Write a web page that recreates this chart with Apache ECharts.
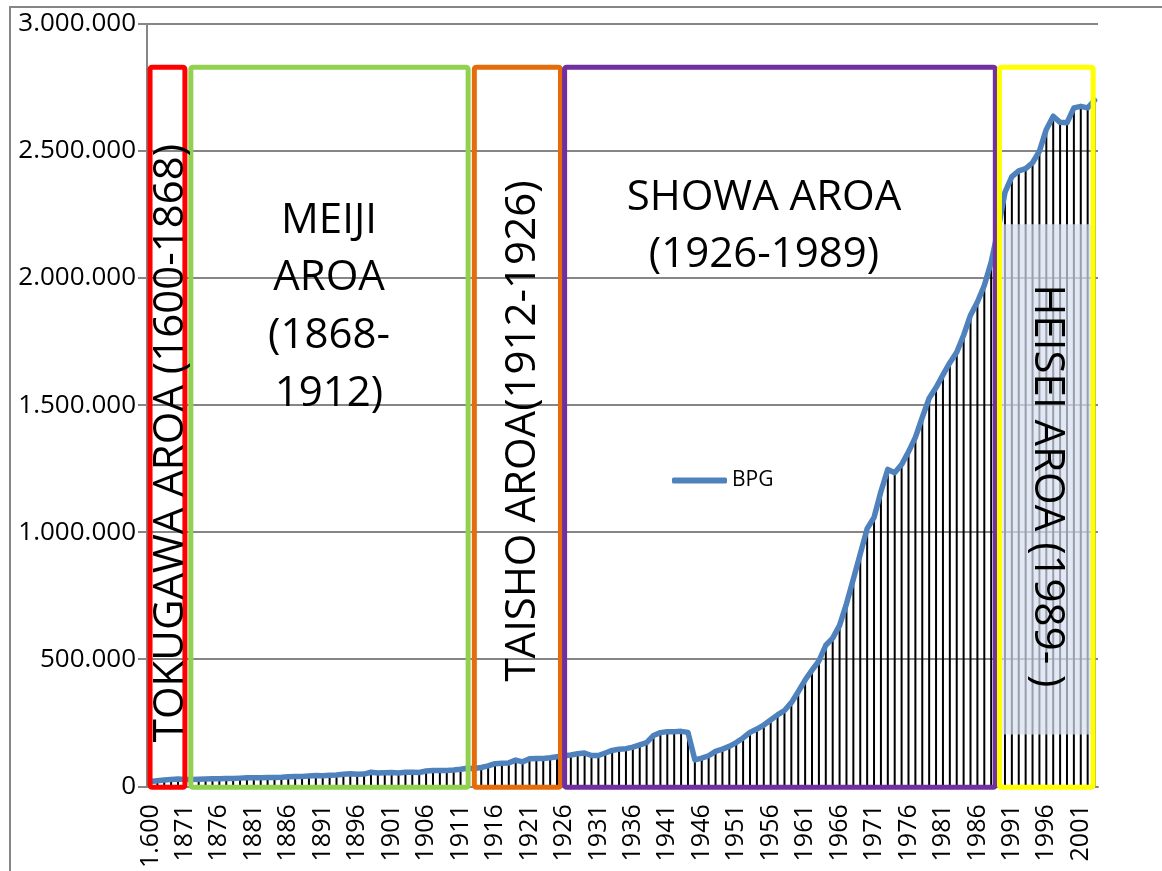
<!DOCTYPE html>
<html><head><meta charset="utf-8">
<script src="https://cdn.jsdelivr.net/npm/echarts@6/dist/echarts.min.js"></script>
<style>html,body{margin:0;padding:0;background:#fff}#c{width:1162px;height:871px}</style>
</head><body><div id="c"></div>
<script>
// ---- categories (as shown on the axis) ----
const yearsTokugawa = ['1.600','1867','1868','1869','1870'];
const yearsMeiji = ['1871','1872','1873','1874','1875','1876','1877','1878','1879','1880',
  '1881','1882','1883','1884','1885','1886','1887','1888','1889','1890',
  '1891','1892','1893','1894','1895','1896','1897','1898','1899','1900',
  '1901','1902','1903','1904','1905','1906','1907','1908','1909','1910','1911','1912'];
const yearsTaisho = ['1913','1914','1915','1916','1917','1918','1919','1920','1921','1922','1923','1924','1925'];
const yearsShowa = ['1926','1927','1928','1929','1930','1931','1932','1933','1934','1935',
  '1936','1937','1938','1939','1940','1941','1942','1943','1944','1945',
  '1946','1947','1948','1949','1950','1951','1952','1953','1954','1955',
  '1956','1957','1958','1959','1960','1961','1962','1963','1964','1965',
  '1966','1967','1968','1969','1970','1971','1972','1973','1974','1975',
  '1976','1977','1978','1979','1980','1981','1982','1983','1984','1985',
  '1986','1987','1988'];
const yearsHeisei = ['1989','1990','1991','1992','1993','1994','1995','1996','1997','1998','1999','2000','2001','2002','2003'];

// ---- BPG values ----
const bpgTokugawa = [19000, 22000, 25000, 27000, 29000];
const bpgMeiji = [27000, 27000, 28000, 29000, 30000, 30000, 31000, 31000, 32000, 33000,
  33000, 33000, 34000, 34000, 35000, 37000, 38000, 38000, 40000, 42000,
  41000, 43000, 44000, 47000, 49000, 47000, 48000, 55000, 52000, 53000,
  54000, 52000, 55000, 55000, 54000, 60000, 62000, 62000, 62000, 64000, 67000, 71000];
const bpgTaisho = [70000, 74000, 80000, 89000, 91000, 92000, 103000, 96000, 108000, 109000, 109000, 112000, 116000];
const bpgShowa = [120000, 123000, 128000, 131000, 121000, 121000, 131000, 141000, 146000, 148000,
  154000, 163000, 172000, 200000, 211000, 215000, 215000, 216000, 212000, 104000,
  111000, 120000, 137000, 146000, 157000, 172000, 190000, 212000, 225000, 241000,
  261000, 281000, 298000, 329000, 372000, 418000, 457000, 493000, 555000, 583000,
  633000, 718000, 816000, 914000, 1014000, 1058000, 1160000, 1247000, 1234000, 1266000,
  1316000, 1373000, 1452000, 1527000, 1569000, 1619000, 1667000, 1708000, 1775000, 1854000,
  1906000, 1971000, 2063000];
const bpgHeisei = [2190000, 2337000, 2399000, 2422000, 2431000, 2454000, 2500000, 2585000, 2637000, 2613000, 2611000, 2670000, 2676000, 2670000, 2700000];

const categories = [].concat(yearsTokugawa, yearsMeiji, yearsTaisho, yearsShowa, yearsHeisei);
const bpg = [].concat(bpgTokugawa, bpgMeiji, bpgTaisho, bpgShowa, bpgHeisei);

// ---- y axis ----
const yMin = 0, yMax = 3000000, yStep = 500000;

// ---- era annotations (category-index span, value span) ----
const eras = [
  {from: -0.06, to: 5.0,  top: 2830000, bottom: -4000, color: '#FF0000'},
  {from: 5.86,  to: 46.1, top: 2830000, bottom: -4000, color: '#92D050'},
  {from: 47.0,  to: 59.5, top: 2830000, bottom: -4000, color: '#E46C0A'},
  {from: 60.1,  to: 122.6, top: 2830000, bottom: -4000, color: '#7030A0'},
  {from: 123.2, to: 136.8, top: 2830000, bottom: -4000, color: '#FFFF00'}
];

const FONT = '"Open Sans", "Liberation Sans", sans-serif';
const fmt = v => String(v).replace(/\B(?=(\d{3})+(?!\d))/g, '.');

const chart = echarts.init(document.getElementById('c'), null, {renderer: 'canvas'});
chart.setOption({
  animation: false,
  backgroundColor: '#fff',
  grid: {left: 147, right: 64, top: 24, bottom: 81},
  legend: {
    data: ['BPG'], left: 672, top: 470, padding: 0,
    icon: 'roundRect', itemWidth: 55, itemHeight: 6,
    textStyle: {fontFamily: FONT, fontSize: 21, color: '#000'}
  },
  xAxis: {
    type: 'category', data: categories, boundaryGap: true,
    axisLine: {lineStyle: {color: '#868686', width: 2}},
    axisTick: {show: false},
    axisLabel: {interval: 4, rotate: 90, margin: 18, fontFamily: FONT, fontSize: 25, color: '#000'}
  },
  yAxis: {
    type: 'value', min: yMin, max: yMax, interval: yStep,
    axisLine: {show: true, lineStyle: {color: '#868686', width: 2}},
    axisTick: {show: true, length: 9, lineStyle: {color: '#868686', width: 2}},
    splitLine: {lineStyle: {color: '#868686', width: 2}},
    axisLabel: {margin: 11, fontFamily: FONT, fontSize: 26, color: '#000', formatter: v => fmt(v)}
  },
  series: [
    {name: 'drop', type: 'bar', data: bpg, barWidth: 2, itemStyle: {color: '#000'}, z: 1, silent: true},
    {name: 'BPG', type: 'line', data: bpg, symbol: 'none', showSymbol: false,
     lineStyle: {color: '#4F81BD', width: 5.5, cap: 'round', join: 'round'},
     itemStyle: {color: '#4F81BD'}, z: 3}
  ]
});

const x0 = chart.convertToPixel({xAxisIndex: 0}, 0);
const x1 = chart.convertToPixel({xAxisIndex: 0}, 1);
const xPix = i => x0 + i * (x1 - x0);
const yPix = v => chart.convertToPixel({yAxisIndex: 0}, v);

const graphics = [];
// outer chart frame
graphics.push({type: 'rect', z: 0, silent: true, shape: {x: 10, y: 7, width: 1300, height: 1000},
  style: {fill: 'none', stroke: '#868686', lineWidth: 2}});
// Heisei label background
graphics.push({type: 'rect', z: 40, silent: true,
  shape: {x: xPix(123.6), y: yPix(2212000), width: xPix(136.7) - xPix(123.6), height: yPix(204000) - yPix(2212000)},
  style: {fill: 'rgba(215,224,239,0.71)', stroke: 'none'}});
eras.forEach(e => {
  const xa = xPix(e.from), xb = xPix(e.to), ya = yPix(e.top), yb = yPix(e.bottom);
  graphics.push({type: 'rect', z: 50, silent: true, shape: {x: xa, y: ya, width: xb - xa, height: yb - ya, r: 2},
    style: {fill: 'none', stroke: e.color, lineWidth: 5}});
});
function txt(s, x, y, rot) {
  return {type: 'text', z: 60, silent: true, x: x, y: y, rotation: rot || 0,
    style: {text: s, font: '42px ' + FONT, fill: '#000', align: 'center', verticalAlign: 'middle',
            textAlign: 'center', textVerticalAlign: 'middle'}};
}
graphics.push(txt('TOKUGAWA AROA (1600-1868)', 171, 443, Math.PI / 2));
graphics.push(txt('MEIJI', 329, 221));
graphics.push(txt('AROA', 329, 278));
graphics.push(txt('(1868-', 329, 336));
graphics.push(txt('1912)', 329, 394));
graphics.push(txt('TAISHO AROA(1912-1926)', 523, 431, Math.PI / 2));
graphics.push(txt('SHOWA AROA', 764, 198));
graphics.push(txt('(1926-1989)', 764, 255));
graphics.push(txt('HEISEI AROA (1989- )', 1047, 486, -Math.PI / 2));
chart.setOption({graphic: graphics});
</script>
</body></html>
